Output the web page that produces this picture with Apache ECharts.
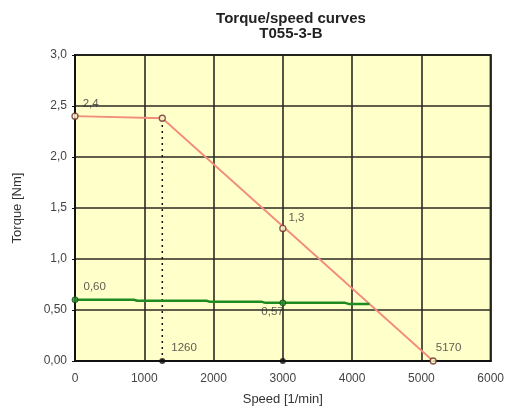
<!DOCTYPE html>
<html style="height: 100%;width:100%">
<head>
<meta charset="utf-8">
</head>
<body style="height: 100%; width:100%; margin:0">
<div id="chart-panel" style="width:507px;height:414px"></div>
<script type="text/javascript" src="https://cdn.jsdelivr.net/npm/echarts@6/dist/echarts.min.js"></script>
<script type="text/javascript">
// kurven
var redCurve = [[0, 2.4], [1260, 2.38], [5170, 0]];
var greenCurve = [[0, 0.60], [850, 0.60], [900, 0.59], [1900, 0.59], [1950, 0.58],
    [2700, 0.58], [2750, 0.57], [3900, 0.57], [3950, 0.56], [4250, 0.56]];
var dottedLine = [[1260, 0], [1260, 2.38]];

// punkte mit beschriftung
var redPoints = [[0, 2.4, '2,4'], [1260, 2.38, ''], [3000, 1.3, '1,3'], [5170, 0, '5170']];
var greenPoints = [[0, 0.60, '0,60'], [3000, 0.57, '0,57']];
var blackPoints = [[1260, 0, '1260'], [3000, 0, '']];

var yTickLabels = {'0': '0,00', '0.5': '0,50', '1': '1,0', '1.5': '1,5', '2': '2,0', '2.5': '2,5', '3': '3,0'};

// verschiebung der beschriftungen (dx, dy) je punkt
var redShift = [[0, -12], [0, 0], [-2, -11], [-5, -13]];
var greenShift = [[1, -13], [-29, 9]];
var blackShift = [[2, -13], [0, 0]];

var myChart = echarts.init(document.getElementById('chart-panel'));

var labelStyle = {
    show: true,
    position: 'right',
    distance: 4,
    fontFamily: 'Liberation Sans',
    fontSize: 11.5,
    color: '#333',
    formatter: function (p) { return p.value[2]; }
};
var shiftBy = function (shifts) {
    return function (p) {
        var s = shifts[p.dataIndex];
        return {dx: s[0], dy: s[1]};
    };
};

var option = {
    backgroundColor: '#fff',
    animation: false,
    title: {
        text: 'Torque/speed curves\nT055-3-B',
        left: 286,
        top: 6,
        textAlign: 'center',
        textStyle: {
            fontFamily: 'Liberation Sans',
            fontSize: 15,
            fontWeight: 'bold',
            color: '#222',
            lineHeight: 15
        }
    },
    grid: {
        left: 75,
        right: 13,
        top: 55,
        bottom: 53,
        show: true,
        backgroundColor: '#FFFFCA',
        borderColor: '#111',
        borderWidth: 2
    },
    xAxis: {
        type: 'value',
        min: 0,
        max: 6000,
        interval: 1000,
        name: 'Speed [1/min]',
        nameLocation: 'middle',
        nameGap: 32,
        nameTextStyle: {fontFamily: 'Liberation Sans', fontSize: 13, color: '#333'},
        axisLine: {lineStyle: {color: '#111', width: 2}},
        axisTick: {show: false},
        axisLabel: {
            margin: 12, fontFamily: 'Liberation Sans', fontSize: 12, color: '#444',
            formatter: function (v) { return String(v); }
        },
        splitLine: {show: true, lineStyle: {color: '#2a2a22', width: 1.6}}
    },
    yAxis: {
        type: 'value',
        min: 0,
        max: 3,
        interval: 0.5,
        name: 'Torque [Nm]',
        nameLocation: 'middle',
        nameGap: 51,
        nameTextStyle: {fontFamily: 'Liberation Sans', fontSize: 13, color: '#333'},
        axisLine: {show: true, lineStyle: {color: '#111', width: 2}},
        axisTick: {show: true, length: 3, lineStyle: {color: '#111'}},
        axisLabel: {
            margin: 8, fontFamily: 'Liberation Sans', fontSize: 12, color: '#444',
            formatter: function (v) { return yTickLabels[String(v)] || ''; }
        },
        splitLine: {show: true, lineStyle: {color: '#2a2a22', width: 1.6}}
    },
    series: [
        {
            type: 'line',
            data: dottedLine,
            showSymbol: false,
            lineStyle: {color: '#111', width: 1.5, type: [2, 4]},
            z: 3
        },
        {
            type: 'line',
            data: redCurve,
            showSymbol: false,
            lineStyle: {color: '#F38C7C', width: 1.8},
            z: 4
        },
        {
            type: 'line',
            data: greenCurve,
            showSymbol: false,
            lineStyle: {color: '#1F8A1F', width: 2.5},
            z: 4
        },
        {
            type: 'scatter',
            data: redPoints,
            symbol: 'circle',
            symbolSize: 6,
            itemStyle: {color: '#FFFFCA', borderColor: '#6A2A2A', borderWidth: 1.3},
            label: labelStyle,
            labelLayout: shiftBy(redShift),
            z: 5
        },
        {
            type: 'scatter',
            data: greenPoints,
            symbol: 'circle',
            symbolSize: 6,
            itemStyle: {color: '#2E8B2E', borderColor: '#0E4A0E', borderWidth: 1},
            label: labelStyle,
            labelLayout: shiftBy(greenShift),
            z: 5
        },
        {
            type: 'scatter',
            data: blackPoints,
            symbol: 'circle',
            symbolSize: 6,
            itemStyle: {color: '#111'},
            label: labelStyle,
            labelLayout: shiftBy(blackShift),
            z: 5
        }
    ]
};

myChart.setOption(option);
</script>
</body>
</html>
